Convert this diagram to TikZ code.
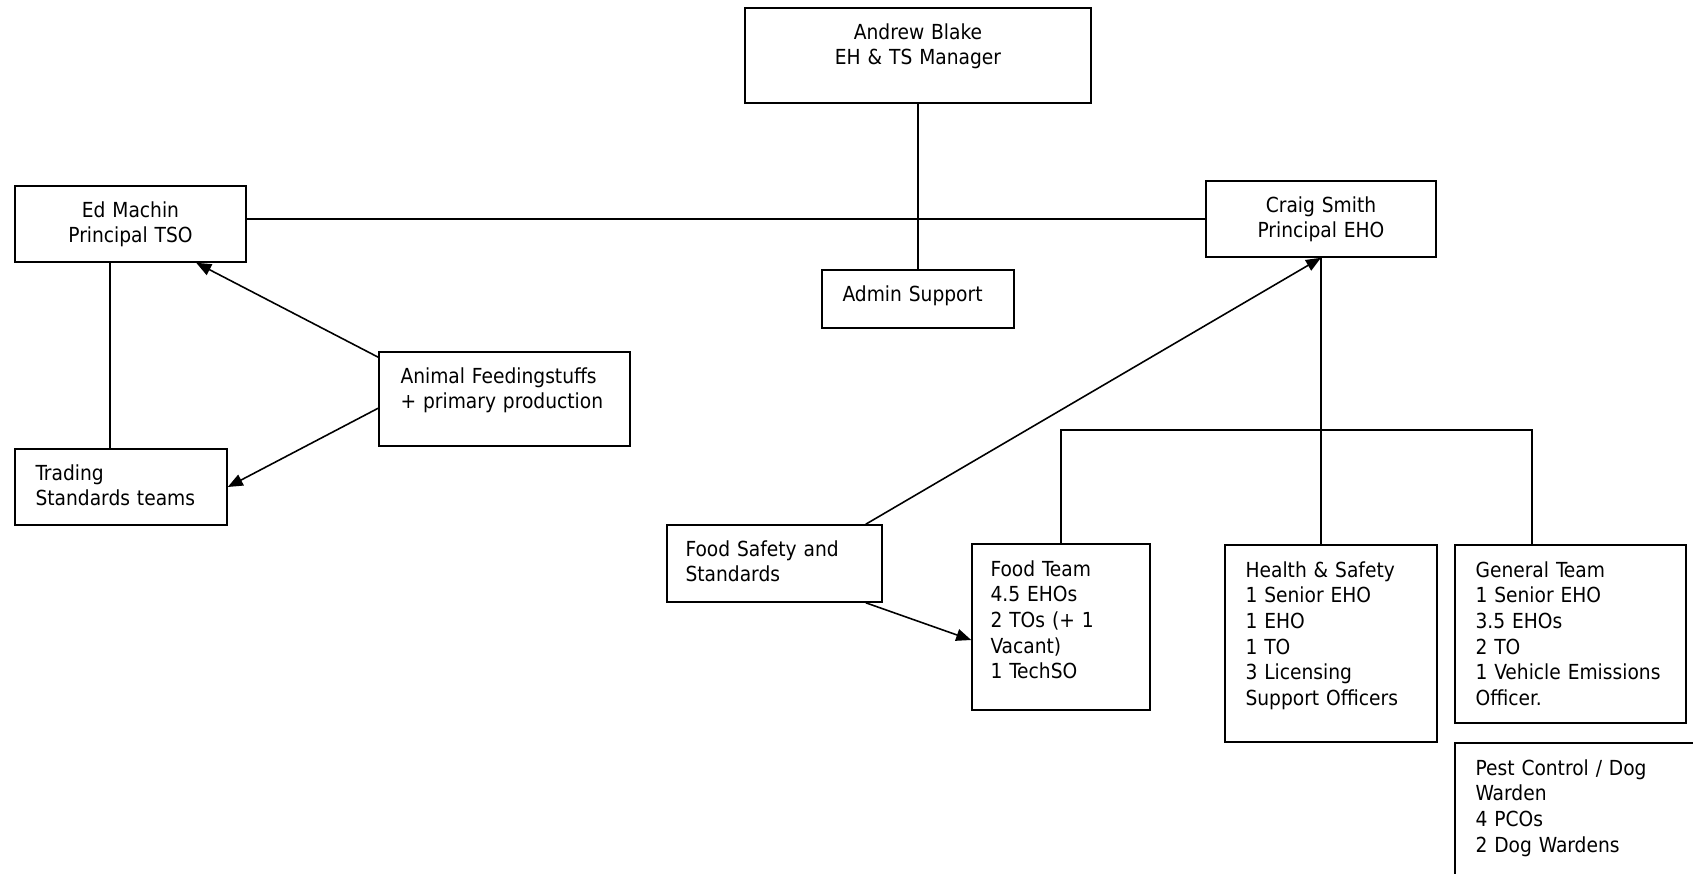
\documentclass[tikz,border=0pt]{standalone}
\usepackage{fontspec}
\setmainfont{DejaVu Sans Condensed}
\usetikzlibrary{positioning, fit, arrows.meta}

\tikzset{
	box/.style={draw, line width=0.9pt, inner sep=0pt},
	txt/.style={inner sep=0pt, text width=6cm, align=left, anchor=base west, font=\fontsize{11.8}{14.6}\selectfont},
	ctxt/.style={inner sep=0pt, text width=5cm, align=center, anchor=base, font=\fontsize{11.8}{14.6}\selectfont},
	link/.style={line width=0.9pt},
	arr/.style={line width=0.9pt, -{Triangle[length=0.3cm, width=0.24cm]}}
}

\begin{document}
\begin{tikzpicture}[x=0.02cm, y=-0.02cm]
		\useasboundingbox (0,0) rectangle (1693,874);
		\clip (0,0) rectangle (1693,874);
		\node[box, fit={(745,8) (1091,103)}] (ab) {};
		\node[ctxt] (abt) at ([shift={(0,32)}]ab.north) {Andrew Blake\\EH \& TS Manager};
		\node[box, fit={(15,186) (246,262)}] (ed) {};
		\node[ctxt] (edt) at ([shift={(0,32)}]ed.north) {Ed Machin\\Principal TSO};
		\node[box, fit={(1206,181) (1436,257)}] (cs) {};
		\node[ctxt] (cst) at ([shift={(0,32)}]cs.north) {Craig Smith\\Principal EHO};
		\node[box, fit={(822,270) (1014,328)}] (ad) {};
		\node[txt] (adt) at ([shift={(21,32)}]ad.north west) {Admin Support};
		\node[box, fit={(379,352) (630,446)}] (an) {};
		\node[txt] (ant) at ([shift={(22,32)}]an.north west) {Animal Feedingstuffs\\+ primary production};
		\node[box, fit={(15,449) (227,525)}] (tr) {};
		\node[txt] (trt) at ([shift={(21,32)}]tr.north west) {Trading\\Standards teams};
		\node[box, fit={(667,525) (882,602)}] (fs) {};
		\node[txt] (fst) at ([shift={(19,32)}]fs.north west) {Food Safety and\\Standards};
		\node[box, fit={(972,544) (1150,710)}] (ft) {};
		\node[txt] (ftt) at ([shift={(19,33)}]ft.north west) {Food Team\\4.5 EHOs\\2 TOs (+ 1\\Vacant)\\1 TechSO};
		\node[box, fit={(1225,545) (1437,742)}] (hs) {};
		\node[txt] (hst) at ([shift={(21,33)}]hs.north west) {Health \& Safety\\1 Senior EHO\\1 EHO\\1 TO\\3 Licensing\\Support Officers};
		\node[box, fit={(1455,545) (1686,723)}] (gn) {};
		\node[txt] (gnt) at ([shift={(21,33)}]gn.north west) {General Team\\1 Senior EHO\\3.5 EHOs\\2 TO\\1 Vehicle Emissions\\Officer.};
		\node[box, fit={(1455,743) (1720,900)}] (pc) {};
		\node[txt] (pct) at ([shift={(21,33)}]pc.north west) {Pest Control / Dog\\Warden\\4 PCOs\\2 Dog Wardens};
		\draw[link] (ab.south) -- (ad.north);
		\draw[link] (ed.east |- cs.west) -- (cs.west);
		\coordinate (edl) at ([shift={(96,0)}]ed.south west);
		\draw[link] (edl) -- (edl |- tr.north);
		\draw[arr] ([shift={(0,6)}]an.north west) -- ([shift={(182,0)}]ed.south west);
		\draw[arr] ([shift={(0,57)}]an.north west) -- (tr.east);
		\draw[arr] ([shift={(-17,0)}]fs.north east) -- (cs.south);
		\draw[arr] ([shift={(-17,0)}]fs.south east) -- ([shift={(0,13)}]ft.west);
		\draw[link] (cs.south) -- (cs.south |- hs.north);
		\coordinate (brk) at (1532,430);
		\draw[link] (ft.north) |- (brk) -- (brk |- gn.north);
\end{tikzpicture}
\end{document}
